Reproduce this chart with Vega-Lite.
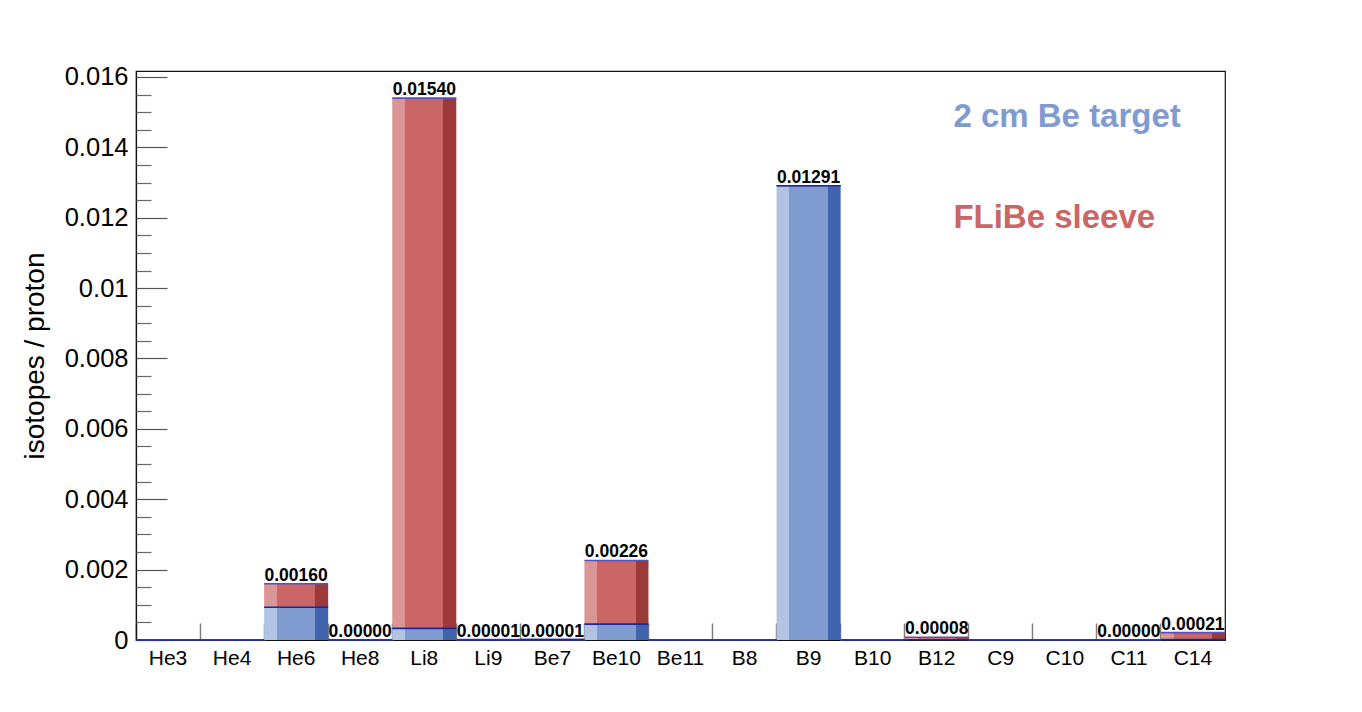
{
  "$schema": "https://vega.github.io/schema/vega-lite/v6.json",
  "width": 1089,
  "height": 569,
  "autosize": {"type": "none"},
  "padding": {"left": 136, "top": 71, "right": 137, "bottom": 72},
  "background": "white",
  "config": {
    "view": {"stroke": "#111111", "strokeWidth": 1.2},
    "font": "Liberation Sans",
    "axis": {"labelFont": "Liberation Sans", "titleFont": "Liberation Sans"}
  },
  "data": {
    "values": [
      {"cat": "He3", "target": 0, "sleeve": 0, "total": 0, "label": null},
      {"cat": "He4", "target": 0, "sleeve": 0, "total": 0, "label": null},
      {"cat": "He6", "target": 0.00093, "sleeve": 0.00067, "total": 0.0016, "label": "0.00160"},
      {"cat": "He8", "target": 0, "sleeve": 0.000002, "total": 0.000002, "label": "0.00000"},
      {"cat": "Li8", "target": 0.00033, "sleeve": 0.01507, "total": 0.0154, "label": "0.01540"},
      {"cat": "Li9", "target": 0, "sleeve": 0.00001, "total": 0.00001, "label": "0.00001"},
      {"cat": "Be7", "target": 0.00001, "sleeve": 0, "total": 0.00001, "label": "0.00001"},
      {"cat": "Be10", "target": 0.00045, "sleeve": 0.00181, "total": 0.00226, "label": "0.00226"},
      {"cat": "Be11", "target": 0, "sleeve": 0, "total": 0, "label": null},
      {"cat": "B8", "target": 0, "sleeve": 0, "total": 0, "label": null},
      {"cat": "B9", "target": 0.01291, "sleeve": 0, "total": 0.01291, "label": "0.01291"},
      {"cat": "B10", "target": 0, "sleeve": 0, "total": 0, "label": null},
      {"cat": "B12", "target": 0.000005, "sleeve": 0.000075, "total": 0.00008, "label": "0.00008"},
      {"cat": "C9", "target": 0, "sleeve": 0, "total": 0, "label": null},
      {"cat": "C10", "target": 0, "sleeve": 0, "total": 0, "label": null},
      {"cat": "C11", "target": 0, "sleeve": 0.000002, "total": 0.000002, "label": "0.00000"},
      {"cat": "C14", "target": 0.00001, "sleeve": 0.0002, "total": 0.00021, "label": "0.00021"}
    ]
  },
  "layer": [
    {
      "encoding": {
        "x": {
          "field": "cat", "type": "nominal", "sort": null,
          "scale": {"paddingInner": 0, "paddingOuter": 0},
          "axis": {
            "title": null, "labelAngle": 0, "ticks": false, "labelFontSize": 21,
            "labelColor": "#000000", "labelPadding": 7, "domainColor": "#111111", "domainWidth": 1.2
          }
        }
      },
      "layer": [
        {
          "mark": {
            "type": "bar",
            "fill": {"gradient": "linear", "x1": 0, "y1": 0, "x2": 1, "y2": 0,
              "stops": [
                {"offset": 0, "color": "#b0c3e3"}, {"offset": 0.2, "color": "#b0c3e3"},
                {"offset": 0.2, "color": "#7f9bd0"}, {"offset": 0.8, "color": "#7f9bd0"},
                {"offset": 0.8, "color": "#3f64ad"}, {"offset": 1, "color": "#3f64ad"}
              ]}
          },
          "encoding": {
            "y": {
              "field": "target", "type": "quantitative",
              "scale": {"domain": [0, 0.01617], "nice": false, "zero": true},
              "axis": {
                "title": "isotopes / proton", "titleFontSize": 28, "titleFontWeight": "normal",
                "titleColor": "#000000", "titlePadding": 15,
                "values": [0, 0.002, 0.004, 0.006, 0.008, 0.01, 0.012, 0.014, 0.016],
                "format": "~g", "ticks": false, "grid": false, "labelFontSize": 25.5,
                "labelColor": "#000000", "labelPadding": 8,
                "domainColor": "#111111", "domainWidth": 1.2
              }
            }
          }
        },
        {
          "mark": {
            "type": "bar",
            "fill": {"gradient": "linear", "x1": 0, "y1": 0, "x2": 1, "y2": 0,
              "stops": [
                {"offset": 0, "color": "#dc9595"}, {"offset": 0.2, "color": "#dc9595"},
                {"offset": 0.2, "color": "#cb6666"}, {"offset": 0.8, "color": "#cb6666"},
                {"offset": 0.8, "color": "#9c3939"}, {"offset": 1, "color": "#9c3939"}
              ]}
          },
          "encoding": {
            "y": {"field": "total", "type": "quantitative"},
            "y2": {"field": "target"}
          }
        },
        {
          "mark": {"type": "bar", "fill": null, "stroke": "#5a50b8", "strokeWidth": 1.6},
          "encoding": {
            "y": {"field": "total", "type": "quantitative"},
            "y2": {"field": "total"}
          }
        },
        {
          "mark": {"type": "bar", "fill": null, "stroke": "#1c2898", "strokeWidth": 1.6},
          "encoding": {
            "y": {"field": "target", "type": "quantitative"},
            "y2": {"field": "target"}
          }
        },
        {
          "transform": [{"filter": "isValid(datum.label)"}],
          "mark": {"type": "text", "font": "Liberation Sans", "fontWeight": "bold", "fontSize": 17.5,
            "baseline": "alphabetic", "align": "center", "dy": -3, "color": "#000000"},
          "encoding": {
            "y": {"field": "total", "type": "quantitative"},
            "text": {"field": "label"}
          }
        },
        {
          "data": {"values": [{"t": "2 cm Be target"}]},
          "mark": {"type": "text", "font": "Liberation Sans", "fontWeight": "bold", "fontSize": 33,
            "align": "left", "baseline": "alphabetic", "color": "#7f9bd0"},
          "encoding": {
            "x": {"datum": "B12", "bandPosition": 0.76},
            "y": {"datum": 0.01458},
            "text": {"field": "t"}
          }
        },
        {
          "data": {"values": [{"t": "FLiBe sleeve"}]},
          "mark": {"type": "text", "font": "Liberation Sans", "fontWeight": "bold", "fontSize": 33,
            "align": "left", "baseline": "alphabetic", "color": "#cb6666"},
          "encoding": {
            "x": {"datum": "B12", "bandPosition": 0.76},
            "y": {"datum": 0.01172},
            "text": {"field": "t"}
          }
        }
      ]
    },
    {
      "mark": {"type": "bar", "opacity": 0},
      "encoding": {
        "x": {
          "field": "cat", "type": "nominal", "sort": null,
          "axis": {
            "orient": "bottom", "title": null, "labels": false, "domain": false, "grid": false,
            "bandPosition": 0, "tickSize": -17, "tickColor": "#808080", "tickWidth": 1.5
          }
        },
        "y": {
          "field": "target", "type": "quantitative",
          "axis": {
            "orient": "left", "title": null, "labels": false, "domain": false, "grid": false,
            "values": [0, 0.002, 0.004, 0.006, 0.008, 0.01, 0.012, 0.014, 0.016],
            "tickSize": -31, "tickColor": "#555555", "tickWidth": 1.2
          }
        }
      }
    },
    {
      "mark": {"type": "bar", "opacity": 0},
      "encoding": {
        "x": {"field": "cat", "type": "nominal", "sort": null, "axis": null},
        "y": {
          "field": "target", "type": "quantitative",
          "axis": {
            "orient": "left", "title": null, "labels": false, "domain": false, "grid": false,
            "values": [0.0005, 0.001, 0.0015, 0.0025, 0.003, 0.0035, 0.0045, 0.005, 0.0055, 0.0065, 0.007, 0.0075, 0.0085, 0.009, 0.0095, 0.0105, 0.011, 0.0115, 0.0125, 0.013, 0.0135, 0.0145, 0.015, 0.0155],
            "tickSize": -15, "tickColor": "#666666", "tickWidth": 1.2
          }
        }
      }
    }
  ],
  "resolve": {"axis": {"x": "independent", "y": "independent"}}
}
